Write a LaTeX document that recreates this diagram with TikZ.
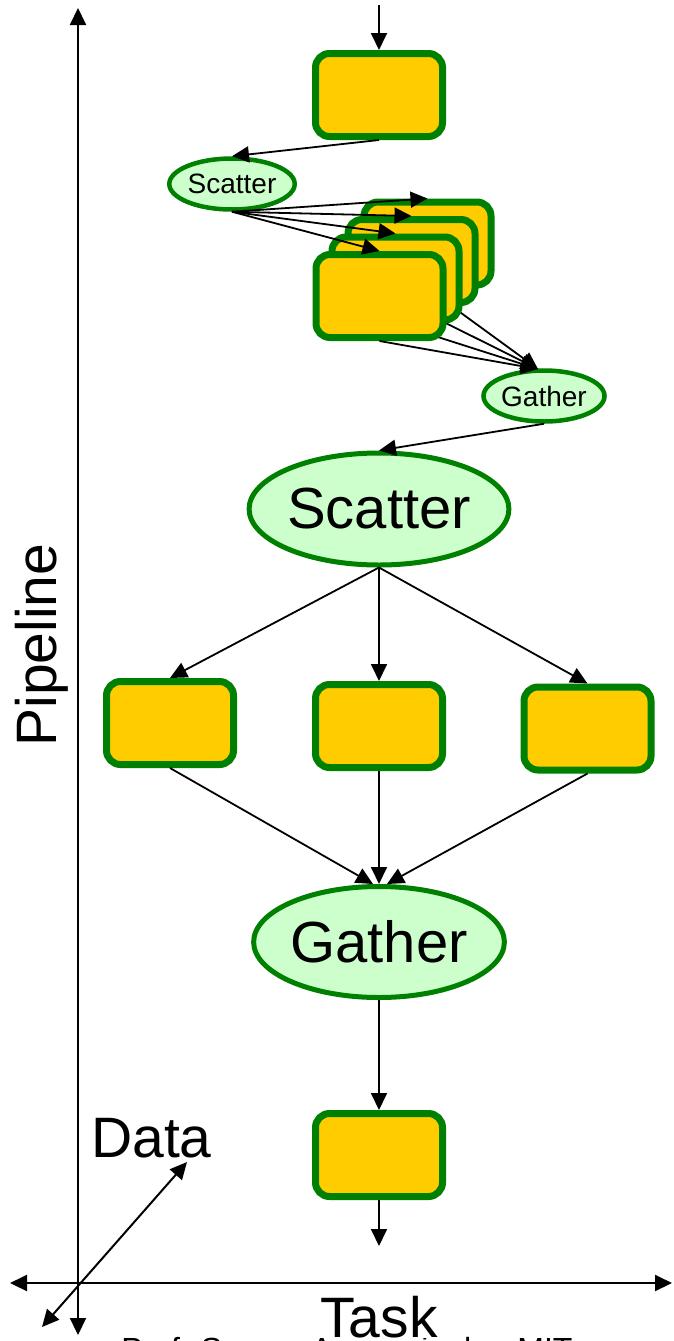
\documentclass[tikz,border=0pt]{standalone}
\usepackage{fontspec}
\setmainfont{Liberation Sans}
\usetikzlibrary{arrows.meta,shapes.geometric,calc}
\definecolor{boxfill}{RGB}{255,204,0}
\definecolor{boxedge}{RGB}{0,128,0}
\definecolor{ovalfill}{RGB}{204,255,204}
\tikzset{
  taskbox/.style={draw=boxedge, fill=boxfill, line width=7pt, rounded corners=14pt,
    minimum width=127pt, minimum height=83pt, inner sep=0pt},
  bigoval/.style={ellipse, draw=boxedge, fill=ovalfill, line width=5pt, inner sep=0pt,
    font=\fontsize{58}{60}\selectfont},
  smalloval/.style={ellipse, draw=boxedge, fill=ovalfill, line width=4.5pt, inner sep=0pt,
    minimum width=113pt, minimum height=51pt, font=\fontsize{28}{30}\selectfont},
  flow/.style={line width=1.8pt, -{Triangle[length=17pt,width=16pt]}},
  axisline/.style={line width=2pt, {Triangle[length=17pt,width=16pt]}-{Triangle[length=17pt,width=16pt]}},
  axislabel/.style={font=\fontsize{57}{59}\selectfont, inner sep=0pt}
}
\begin{document}
\begin{tikzpicture}[x=1pt,y=-1pt]
\useasboundingbox (0,0) rectangle (673,1341);

% credit line, mostly below the page edge
\node[anchor=base, inner sep=0pt, font=\fontsize{32}{34}\selectfont] (credit) at (347,1360) {Prof. Saman Amarasinghe, MIT};

% axis labels
\node[axislabel, fill=white, anchor=base] (tasklbl) at (379,1337) {Task};
\node[axislabel, anchor=base west] (datalbl) at (91,1157) {Data};
\node[axislabel, anchor=base, rotate=90] (pipelbl) at (56,645) {Pipeline};

% axes
\coordinate (vtop) at (78,8);
\coordinate (vbot) at (78,1335);
\coordinate (hleft) at (10,1283);
\coordinate (hright) at (672,1283);
\coordinate (dlow) at (42,1327);
\coordinate (dhigh) at (187,1162);
\draw[axisline] (vbot) -- (vtop);
\draw[axisline] (hleft) -- (hright);
\draw[axisline] (dlow) -- (dhigh);

% first stage: small scatter / gather
\coordinate (in) at (379,5);
\node[taskbox] (top) at (379,95) {};
\node[smalloval] (ss) at (232,184) {Scatter};
\node[smalloval] (sg) at (544,396) {Gather};
\coordinate (sgin) at (538,369);

% stacked data-parallel tasks (gather lines of the back copies run underneath)
\coordinate (c4) at (427.5,243.5);
\coordinate (c3) at (411.5,261);
\coordinate (c2) at (395.5,278.5);
\coordinate (c1) at (379.5,296);
\draw[flow] (c4) ++(0,45) -- (sgin);
\draw[flow] (c3) ++(0,45) -- (sgin);
\draw[flow] (c2) ++(0,45) -- (sgin);
\node[taskbox] (s4) at (c4) {};
\node[taskbox] (s3) at (c3) {};
\node[taskbox] (s2) at (c2) {};
\node[taskbox] (s1) at (c1) {};
\draw[flow] (s1.south) -- (sgin);

\draw[flow] (in) -- (top.north);
\draw[flow] (top.south) -- (ss.north);
\draw[flow] (ss.south) -- (s4.north);
\draw[flow] (ss.south) -- (s3.north);
\draw[flow] (ss.south) -- (s2.north);
\draw[flow] (ss.south) -- (s1.north);

% second stage: big scatter / gather
\node[bigoval, minimum width=245pt, minimum height=112pt] (bs) at (379,509) {Scatter};
\node[taskbox] (left) at (170,723) {};
\node[taskbox] (mid) at (379,726) {};
\node[taskbox] (right) at (587.5,728.5) {};
\node[bigoval, minimum width=247pt, minimum height=111pt] (bg) at (379,942) {Gather};
\node[taskbox] (bot) at (379,1155) {};
\coordinate (out) at (379,1246);

\draw[flow] (sg.south) -- (bs.north);
\draw[flow] (bs.south) -- (left.north);
\draw[flow] (bs.south) -- (mid.north);
\draw[flow] (bs.south) -- (right.north);
\draw[flow] (left.south) -- ($(bg.north)+(-6,0)$);
\draw[flow] (mid.south) -- (bg.north);
\draw[flow] (right.south) -- ($(bg.north)+(8,0)$);
\draw[flow] (bg.south) -- (bot.north);
\draw[flow] (bot.south) -- (out);
\end{tikzpicture}
\end{document}
